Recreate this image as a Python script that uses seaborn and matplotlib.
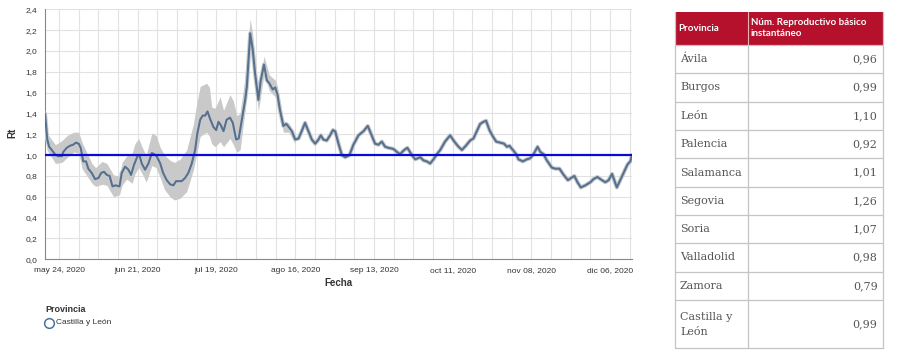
import numpy as np
import pandas as pd
import matplotlib
matplotlib.use("Agg")
import matplotlib.pyplot as plt
import matplotlib.patheffects as pe
from matplotlib.patches import Rectangle
import seaborn as sns

# ---------------- data ----------------
start_date = "2020-05-19"
day_offsets = [0, 0.4, 0.8, 1.5, 2.4, 3.5, 4.7, 6.0, 6.5, 7.7, 8.9, 10.0, 11.0, 12.0, 12.7, 13.6, 14.6, 15.4,
               16.6, 17.8, 19.0, 20.0, 21.0, 22.0, 23.0, 24.0, 25.0, 26.5, 27.3, 28.5, 29.7, 30.6, 31.7, 32.9,
               33.6, 34.4, 35.6, 36.8, 38.0, 38.8, 39.7, 41.0, 42.0, 43.3, 44.5, 45.7, 46.6, 47.7, 48.6, 49.8,
               51.0, 52.2, 53.4, 54.2, 55.2, 56.1, 57.0, 57.8, 58.7, 59.9, 60.9, 61.7, 62.5, 63.5, 64.6, 65.8,
               66.8, 68.0, 68.9, 70.0, 71.2, 71.8, 73.0, 73.9, 74.7, 75.9, 76.7, 77.9, 78.9, 79.8, 81.0, 81.9,
               82.7, 83.6, 84.8, 85.8, 86.7, 87.8, 89.0, 90.2, 91.3, 92.5, 93.7, 94.9, 96.1, 97.3, 98.1, 99.0,
               100.2, 101.4, 102.4, 103.2, 104.4, 105.6, 106.8, 108.3, 109.7, 111.5, 113.3, 114.8, 116.2, 117.4,
               118.6, 119.8, 121.0, 122.2, 123.9, 125.2, 126.3, 127.8, 128.9, 130.5, 131.7, 133.5, 134.6, 135.8,
               137.0, 138.2, 139.4, 140.6, 142.3, 144.1, 145.6, 147.1, 148.3, 149.7, 151.2, 152.4, 153.6, 154.8,
               156.0, 156.9, 158.1, 159.3, 160.5, 161.9, 163.3, 164.3, 165.2, 166.4, 167.6, 168.4, 170.0, 171.4,
               172.6, 173.8, 175.2, 176.2, 177.3, 178.5, 180.3, 181.5, 183.0, 184.5, 186.0, 187.1, 188.3, 189.4,
               190.6, 192.2, 194.0, 195.1, 196.5, 198.1, 199.3, 200.5, 201.7, 202.5, 203.4, 204.6, 205.8, 207.2,
               208.2, 208.8]
rt_values = [1.40, 1.27, 1.15, 1.08, 1.05, 1.01, 0.99, 0.99, 1.03, 1.07, 1.09, 1.10, 1.12, 1.11, 1.07, 0.94, 0.94, 0.87,
             0.83, 0.77, 0.78, 0.83, 0.84, 0.81, 0.80, 0.70, 0.71, 0.70, 0.83, 0.89, 0.86, 0.81, 0.91, 0.99,
             1.00, 0.92, 0.86, 0.92, 1.02, 1.01, 0.99, 0.92, 0.83, 0.76, 0.72, 0.71, 0.75, 0.75, 0.75, 0.78,
             0.83, 0.92, 1.05, 1.21, 1.34, 1.38, 1.38, 1.42, 1.35, 1.27, 1.24, 1.32, 1.29, 1.23, 1.34, 1.36,
             1.31, 1.15, 1.16, 1.34, 1.53, 1.66, 2.17, 2.01, 1.79, 1.53, 1.71, 1.87, 1.72, 1.69, 1.63, 1.65,
             1.58, 1.43, 1.28, 1.30, 1.27, 1.23, 1.15, 1.16, 1.23, 1.31, 1.23, 1.15, 1.11, 1.15, 1.19, 1.15,
             1.14, 1.19, 1.24, 1.23, 1.11, 1.00, 0.98, 1.00, 1.10, 1.19, 1.23, 1.28, 1.19, 1.11,
             1.10, 1.13, 1.08, 1.07, 1.06, 1.03, 1.01, 1.05, 1.07, 1.00, 0.96, 0.98, 0.95, 0.94,
             0.92, 0.96, 1.01, 1.05, 1.13, 1.19, 1.13, 1.08, 1.05, 1.09, 1.14, 1.16, 1.23, 1.30,
             1.32, 1.33, 1.24, 1.18, 1.13, 1.12, 1.11, 1.08, 1.09, 1.05, 1.01, 0.96, 0.94, 0.96,
             0.97, 1.01, 1.08, 1.03, 1.01, 0.95, 0.88, 0.87, 0.87, 0.81, 0.76, 0.78, 0.80, 0.74,
             0.69, 0.71, 0.74, 0.77, 0.79, 0.76, 0.74, 0.76, 0.82, 0.76, 0.69, 0.76, 0.83, 0.91,
             0.94, 1.00]

band_offsets = [0, 0.7, 3.7, 6.0, 8.0, 10.2, 12.0, 13.2, 16.7, 18.0, 20.3, 22.0, 24.4, 26.5, 27.4, 29.0, 31.0,
                32.0, 33.3, 35.0, 36.0, 38.0, 39.5, 40.9, 42.5, 44.5, 46.0, 48.0, 50.4, 52.8, 54.0, 55.2, 57.5,
                58.5, 59.3, 60.5, 62.3, 63.5, 65.8, 67.0, 68.2, 69.4, 71.2, 73.0, 73.9, 75.9, 77.9, 79.8, 81.9,
                82.7, 84.8, 86.7, 89.0]
band_low = [1.30, 1.05, 0.92, 0.93, 0.98, 1.03, 1.02, 0.87, 0.73, 0.70, 0.72, 0.71, 0.60, 0.62, 0.71, 0.77, 0.73,
            0.82, 0.88, 0.80, 0.74, 0.90, 0.88, 0.79, 0.67, 0.60, 0.57, 0.585, 0.65, 0.86, 1.02, 1.18, 1.22,
            1.18, 1.11, 1.08, 1.13, 1.08, 1.16, 1.10, 1.03, 1.05, 1.44, 2.05, 1.92, 1.42, 1.78, 1.62, 1.56,
            1.50, 1.22, 1.22, 1.11]
band_high = [1.44, 1.21, 1.10, 1.14, 1.19, 1.22, 1.22, 1.12, 0.92, 0.88, 0.94, 0.92, 0.81, 0.80, 0.93, 0.99, 1.02,
             1.11, 1.16, 1.05, 1.00, 1.21, 1.19, 1.08, 1.00, 0.95, 0.93, 0.96, 1.05, 1.30, 1.50, 1.66, 1.69,
             1.65, 1.46, 1.45, 1.56, 1.43, 1.58, 1.52, 1.38, 1.40, 1.76, 2.31, 2.15, 1.60, 1.95, 1.77, 1.72,
             1.66, 1.33, 1.31, 1.19]

threshold = 1.0
y_ticks = [0.0, 0.2, 0.4, 0.6, 0.8, 1.0, 1.2, 1.4, 1.6, 1.8, 2.0, 2.2, 2.4]
x_tick_dates = ["2020-05-24", "2020-06-21", "2020-07-19", "2020-08-16",
                "2020-09-13", "2020-10-11", "2020-11-08", "2020-12-06"]
x_tick_labels = ["may 24, 2020", "jun 21, 2020", "jul 19, 2020", "ago 16, 2020",
                 "sep 13, 2020", "oct 11, 2020", "nov 08, 2020", "dic 06, 2020"]
legend_title = "Provincia"
legend_label = "Castilla y León"

table_header = ["Provincia", "Núm. Reproductivo básico\ninstantáneo"]
provinces = ["Ávila", "Burgos", "León", "Palencia", "Salamanca", "Segovia", "Soria",
             "Valladolid", "Zamora", "Castilla y\nLeón"]
province_rt = [0.96, 0.99, 1.10, 0.92, 1.01, 1.26, 1.07, 0.98, 0.79, 0.99]

# ---------------- style ----------------
sns.set_theme(style="white")
plt.rcParams["font.family"] = ["Liberation Sans", "DejaVu Sans"]

W, H = 900, 358
fig = plt.figure(figsize=(W / 100, H / 100), dpi=100)
fig.patch.set_facecolor("white")

ax_l, ax_r, ax_t, ax_b = 45, 632, 9.3, 259.3
ax = fig.add_axes([ax_l / W, 1 - ax_b / H, (ax_r - ax_l) / W, (ax_b - ax_t) / H])

t0 = pd.Timestamp(start_date)
dates = t0 + pd.to_timedelta(day_offsets, unit="D")
band_dates = t0 + pd.to_timedelta(band_offsets, unit="D")
df = pd.DataFrame({"Fecha": dates, "Rt": rt_values})

ax.fill_between(band_dates, band_low, band_high, color="#c9c9c9", lw=0, zorder=2)
sns.lineplot(data=df, x="Fecha", y="Rt", ax=ax, color="#56708e", lw=1.5, zorder=3,
             path_effects=[pe.Stroke(linewidth=3.0, foreground="#c9ccd0"), pe.Normal()])
ax.axhline(threshold, color="#0a0ad6", lw=1.6, zorder=4)

# ticks
major = []
major_labels = []
for d, lab in zip(x_tick_dates, x_tick_labels):
    major.append(pd.Timestamp(d))
    major_labels.append(lab)
    if pd.Timestamp(d) + pd.Timedelta(days=14) <= dates[-1]:
        major.append(pd.Timestamp(d) + pd.Timedelta(days=14))
        major_labels.append("")
ax.set_xticks(major)
ax.set_xticklabels(major_labels)
weekly = pd.date_range("2020-05-24", "2020-12-13", freq="7D")
ax.set_xticks(weekly, minor=True)
ax.set_yticks(y_ticks)
ax.set_yticklabels([f"{v:.1f}".replace(".", ",") for v in y_ticks])
ax.set_xlim(dates[0], dates[-1])
ax.set_ylim(0, 2.4)

ax.grid(True, which="both", color="#e2e2e2", lw=0.8, zorder=0)
ax.set_axisbelow(True)
ax.tick_params(axis="both", which="major", direction="out", length=4, width=0.7,
               color="#888888", labelsize=6, labelcolor="#333333", pad=1.5)
ax.tick_params(axis="x", which="minor", length=0)
for s in ["top", "right"]:
    ax.spines[s].set_visible(False)
for s in ["left", "bottom"]:
    ax.spines[s].set_color("#888888")
    ax.spines[s].set_linewidth(0.8)
ax.set_xlabel("")
ax.set_ylabel("")

# overlay in pixel coordinates for titles, legend and table
ov = fig.add_axes([0, 0, 1, 1])
ov.set_xlim(0, W)
ov.set_ylim(H, 0)
ov.axis("off")
ov.patch.set_alpha(0)

ov.text(12, 133, "Rt", rotation=90, ha="center", va="center", fontsize=7, fontweight="bold", color="#333333")
ov.text(338, 283, "Fecha", ha="center", va="center", fontsize=7, fontweight="bold", color="#333333")

# legend
ov.text(45, 309.3, legend_title, ha="left", va="center", fontsize=6.5, fontweight="bold", color="#333333")
ov.plot([49], [322.7], marker="o", ms=7, mfc="none", mec="#4a72a0", mew=1.1)
ov.text(55.5, 322.7, legend_label, ha="left", va="center", fontsize=6, color="#333333")

# table
tl, tr, tc = 675, 882.7, 748.3
th_top, th_bot = 11.7, 45
row_edges = [45, 73.3, 101.7, 130, 158.3, 186.7, 215, 243.3, 271.7, 300, 348.3]
header_col = "#b5102c"
border_col = "#c4c4c4"
ov.add_patch(Rectangle((tl, th_top), tr - tl, th_bot - th_top, facecolor=header_col, edgecolor="none"))
ov.plot([tc, tc], [th_top, th_bot], color="#e9b3bb", lw=0.8)
ov.text(678.5, 28.3, table_header[0], ha="left", va="center", fontsize=7, fontweight="bold",
        color="white", family=["Lato", "DejaVu Sans"])
ov.text(751, 28.0, table_header[1], ha="left", va="center", fontsize=7, fontweight="bold",
        color="white", family=["Lato", "DejaVu Sans"], linespacing=1.35)
# borders
for y in row_edges:
    ov.plot([tl, tr], [y, y], color=border_col, lw=0.9)
ov.plot([tl, tl], [th_top, row_edges[-1]], color=border_col, lw=0.9)
ov.plot([tr, tr], [th_top, row_edges[-1]], color=border_col, lw=0.9)
ov.plot([tc, tc], [th_bot, row_edges[-1]], color=border_col, lw=0.9)

for i, (p, v) in enumerate(zip(provinces, province_rt)):
    yc = (row_edges[i] + row_edges[i + 1]) / 2
    ov.text(680, yc, p, ha="left", va="center", fontsize=8, color="#555555",
            family=["DejaVu Serif"], linespacing=1.6)
    ov.text(877.5, yc, f"{v:.2f}".replace(".", ","), ha="right", va="center", fontsize=8,
            color="#555555", family=["DejaVu Serif"])

fig.savefig("out.png", dpi=100, facecolor="white")
